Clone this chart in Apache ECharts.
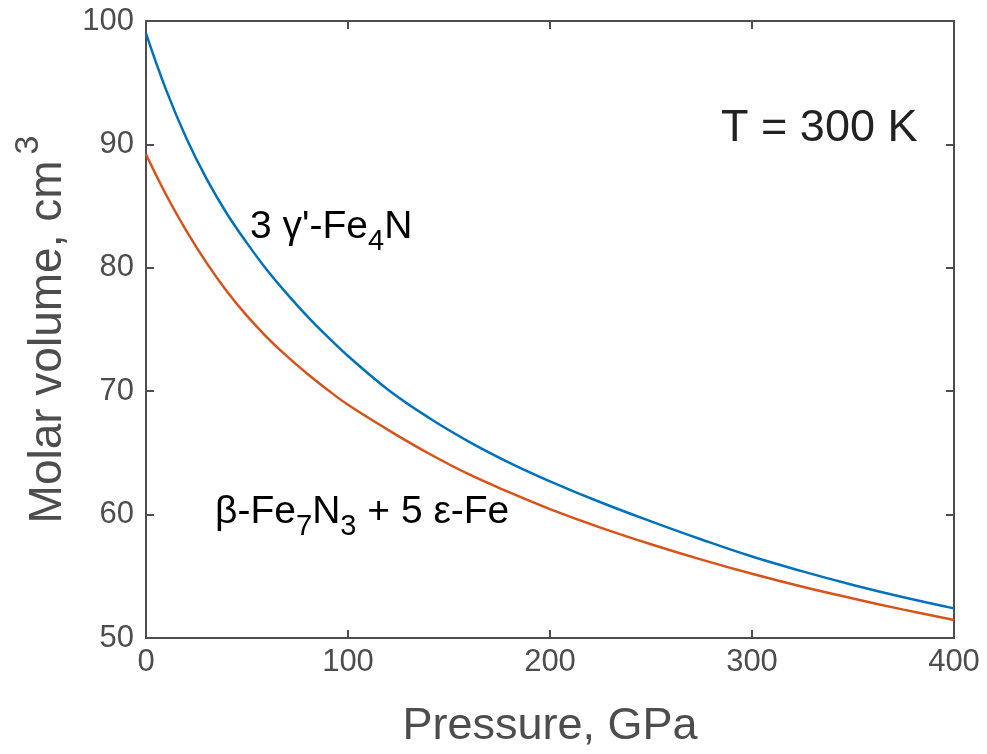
<!DOCTYPE html>
<html>
<head>
<meta charset="utf-8">
<script src="https://cdn.jsdelivr.net/npm/echarts@6/dist/echarts.min.js"></script>
<style>html,body{margin:0;padding:0;background:#fff}#c{width:987px;height:754px}</style>
</head>
<body>
<div id="c"></div>
<script>
// Pressure (GPa)
var pressure = [0,10,20,30,40,50,60,70,80,90,100,120,140,160,180,200,225,250,275,300,325,350,375,400];
// 3 γ'-Fe4N molar volume (cm^3)
var fe4n = [99.0,94.4,90.5,87.2,84.4,82.0,79.8,77.85,76.05,74.4,72.85,70.1,67.85,65.9,64.2,62.7,61.0,59.45,57.98,56.6,55.4,54.3,53.3,52.4];
// β-Fe7N3 + 5 ε-Fe molar volume (cm^3)
var fe7n3 = [89.2,85.9,83.0,80.4,78.1,76.1,74.35,72.8,71.4,70.1,68.9,66.85,64.95,63.25,61.8,60.45,58.95,57.6,56.35,55.2,54.15,53.2,52.3,51.46];
var xTicks = {min:0, max:400, interval:100};
var yTicks = {min:50, max:100, interval:10};

var FONT = 'Liberation Sans, Arial, Helvetica, sans-serif';
var AX = '#4d4d4d';
function pairs(xs, ys){ return xs.map(function(x,i){ return [x, ys[i]]; }); }

var chart = echarts.init(document.getElementById('c'), null, {renderer:'canvas'});
var axisCommon = {
  type:'value',
  axisLine:{show:true, onZero:false, lineStyle:{color:AX, width:2}},
  axisTick:{show:true, inside:true, length:8, lineStyle:{color:AX, width:2}},
  splitLine:{show:false}
};
var option = {
  animation:false,
  backgroundColor:'#fff',
  grid:{left:146, right:33, top:21, bottom:116, containLabel:false, outerBoundsMode:'none'},
  xAxis:[
    Object.assign({}, axisCommon, {
      position:'bottom', min:xTicks.min, max:xTicks.max, interval:xTicks.interval,
      axisLabel:{color:AX, fontSize:31, fontFamily:FONT, margin:9},
      name:'Pressure, GPa', nameLocation:'middle', nameGap:66,
      nameTextStyle:{color:AX, fontSize:45, fontFamily:FONT}
    }),
    Object.assign({}, axisCommon, {
      position:'top', min:xTicks.min, max:xTicks.max, interval:xTicks.interval,
      axisLabel:{show:false}
    })
  ],
  yAxis:[
    Object.assign({}, axisCommon, {
      position:'left', min:yTicks.min, max:yTicks.max, interval:yTicks.interval,
      axisLabel:{color:AX, fontSize:31, fontFamily:FONT, margin:12},
      name:'{m|Molar volume, cm}{s|3}', nameLocation:'middle', nameGap:12, nameRotate:90,
      nameTextStyle:{color:AX, fontSize:46, fontFamily:FONT,
        rich:{
          m:{color:AX, fontSize:46, fontFamily:FONT, lineHeight:60, verticalAlign:'bottom'},
          s:{color:AX, fontSize:34, fontFamily:FONT, lineHeight:34, verticalAlign:'top', padding:[0,0,0,6]}
        }}
    }),
    Object.assign({}, axisCommon, {
      position:'right', min:yTicks.min, max:yTicks.max, interval:yTicks.interval,
      axisLabel:{show:false}
    })
  ],
  series:[
    {type:'line', name:"3 γ'-Fe4N", data:pairs(pressure, fe4n), smooth:0.4, showSymbol:false, symbol:'none',
     xAxisIndex:0, yAxisIndex:0, lineStyle:{color:'#0072BD', width:2.5}, itemStyle:{color:'#0072BD'}, z:3},
    {type:'line', name:'β-Fe7N3 + 5 ε-Fe', data:pairs(pressure, fe7n3), smooth:0.4, showSymbol:false, symbol:'none',
     xAxisIndex:0, yAxisIndex:0, lineStyle:{color:'#D95319', width:2.5}, itemStyle:{color:'#D95319'}, z:2}
  ]
};
chart.setOption(option);

// Annotations anchored in data coordinates
var mainRich = {
  n:{fontSize:39, fontFamily:FONT, color:'#111', lineHeight:44, verticalAlign:'top'},
  b:{fontSize:29, fontFamily:FONT, color:'#111', lineHeight:29, verticalAlign:'top', padding:[19,0,0,0]}
};
function anchor(x, y){ return chart.convertToPixel({xAxisIndex:0, yAxisIndex:0}, [x, y]); }
var pA = anchor(51.5, 82.0);
var pB = anchor(34.2, 58.9);
var pT = anchor(284.7, 93.1);
chart.setOption({
  graphic:[
    {type:'text', x:pA[0], y:pA[1]-35, style:{text:"{n|3 γ'-Fe}{b|4}{n|N}", rich:mainRich, align:'left', verticalAlign:'top'}},
    {type:'text', x:pB[0], y:pB[1]-35, style:{text:'{n|β-Fe}{b|7}{n|N}{b|3}{n| + 5 ε-Fe}', rich:mainRich, align:'left', verticalAlign:'top'}},
    {type:'text', x:pT[0], y:pT[1], style:{text:'T = 300 K', fontSize:45, fontFamily:FONT, fill:'#222', align:'left', verticalAlign:'alphabetic'}}
  ]
});
</script>
</body>
</html>
